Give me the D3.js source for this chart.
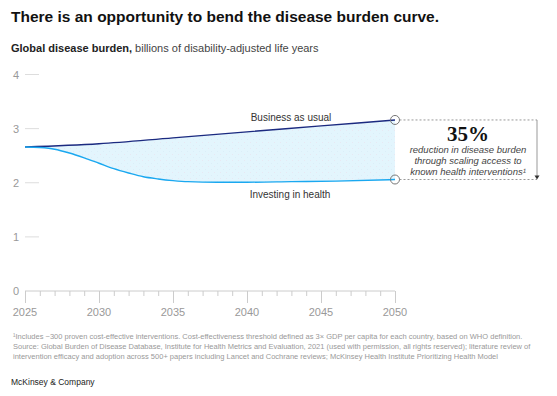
<!DOCTYPE html>
<html>
<head>
<meta charset="utf-8">
<script src="https://cdn.jsdelivr.net/npm/d3@7"></script>
<style>
  body { margin: 0; background: #fff; }
  svg text { font-family: "Liberation Sans", Arial, sans-serif; }
</style>
</head>
<body>
<div id="vis"></div>
<script>
// data (billions of DALYs)
var bauYears = [2025, 2030, 2035, 2040, 2045, 2050];
var bauValues = [2.66, 2.72, 2.83, 2.94, 3.05, 3.16];

var healthYears = [2025, 2026, 2027, 2028, 2029, 2030, 2031, 2032, 2033, 2034, 2035, 2036, 2038, 2040, 2043, 2046, 2050];
var healthValues = [2.66, 2.65, 2.62, 2.55, 2.46, 2.36, 2.26, 2.18, 2.11, 2.07, 2.04, 2.02, 2.01, 2.01, 2.02, 2.03, 2.06];

var yTicks = [0, 1, 2, 3, 4];
var xTicks = [2025, 2030, 2035, 2040, 2045, 2050];

var footnotes = [
    "\u00b9Includes ~300 proven cost-effective interventions. Cost-effectiveness threshold defined as 3\u00d7 GDP per capita for each country, based on WHO definition.",
    "Source: Global Burden of Disease Database, Institute for Health Metrics and Evaluation, 2021 (used with permission, all rights reserved); literature review of",
    "intervention efficacy and adoption across 500+ papers including Lancet and Cochrane reviews; McKinsey Health Institute Prioritizing Health Model"
];

var bau = bauYears.map((d, i) => ({ year: d, value: bauValues[i] }));
var health = healthYears.map((d, i) => ({ year: d, value: healthValues[i] }));

var W = 557, H = 396;
var svg = d3.select("#vis")
    .append("svg")
    .attr("width", W)
    .attr("height", H);

var x = d3.scaleLinear().domain([2025, 2050]).range([25, 395]);
var y = d3.scaleLinear().domain([0, 4]).range([291, 74.5]);

// titles
svg.append("text")
    .attr("x", 11).attr("y", 22)
    .attr("font-size", 15.5).attr("font-weight", "bold").attr("fill", "#111")
    .text("There is an opportunity to bend the disease burden curve.");

var sub = svg.append("text")
    .attr("x", 11).attr("y", 52)
    .attr("font-size", 11).attr("fill", "#222");
sub.append("tspan").attr("font-weight", "bold").text("Global disease burden,");
sub.append("tspan").attr("fill", "#444").text(" billions of disability-adjusted life years");

// y ticks
var yg = svg.append("g");
yg.selectAll("line").data(yTicks.filter(d => d > 0)).enter().append("line")
    .attr("x1", 25).attr("x2", 39)
    .attr("y1", d => y(d)).attr("y2", d => y(d))
    .attr("stroke", "#ddd").attr("stroke-width", 1);
yg.selectAll("text").data(yTicks).enter().append("text")
    .attr("x", 19).attr("y", d => y(d) + 4)
    .attr("text-anchor", "end")
    .attr("font-size", 11).attr("fill", "#999")
    .text(d => d);

// x axis
var xAxis = d3.axisBottom(x)
    .ticks(25)
    .tickSize(5)
    .tickFormat("");
var xg = svg.append("g")
    .attr("transform", "translate(0," + y(0) + ")")
    .call(xAxis);
xg.select(".domain").attr("stroke", "#ccc").attr("d", "M" + x(2025) + ",0H" + x(2050));
xg.selectAll(".tick line").attr("stroke", "#ccc")
    .attr("y2", d => d % 5 === 0 ? 12 : 5);
svg.append("g").selectAll("text").data(xTicks).enter().append("text")
    .attr("x", d => x(d)).attr("y", 316)
    .attr("text-anchor", "middle")
    .attr("font-size", 11).attr("fill", "#999")
    .text(d => d);

// dotted fill pattern
var defs = svg.append("defs");
var pat = defs.append("pattern")
    .attr("id", "dots")
    .attr("patternUnits", "userSpaceOnUse")
    .attr("width", 6).attr("height", 6);
pat.append("rect").attr("width", 6).attr("height", 6).attr("fill", "#e3f5fd");
pat.append("circle").attr("cx", 1.5).attr("cy", 1.5).attr("r", 0.45).attr("fill", "#d3e8f4");
pat.append("circle").attr("cx", 4.5).attr("cy", 4.5).attr("r", 0.45).attr("fill", "#ecdcea");

// area between the two curves
var curve = d3.line().curve(d3.curveMonotoneX).x(d => x(d.year)).y(d => y(d.value));

var areaPath = curve(bau) + "L" + curve(health.slice().reverse()).slice(1) + "Z";
svg.append("path")
    .attr("d", areaPath)
    .attr("fill", "url(#dots)");

svg.append("path")
    .datum(bau)
    .attr("d", curve)
    .attr("fill", "none")
    .attr("stroke", "#1b2a80")
    .attr("stroke-width", 1.4);

svg.append("path")
    .datum(health)
    .attr("d", curve)
    .attr("fill", "none")
    .attr("stroke", "#1aa8f0")
    .attr("stroke-width", 1.4);

// series labels
svg.append("text")
    .attr("x", 291).attr("y", 121)
    .attr("text-anchor", "middle")
    .attr("font-size", 10).attr("fill", "#333")
    .text("Business as usual");
svg.append("text")
    .attr("x", 290).attr("y", 198)
    .attr("text-anchor", "middle")
    .attr("font-size", 10).attr("fill", "#333")
    .text("Investing in health");

// annotation
var endTop = y(bauValues[bauValues.length - 1]);
var endBot = y(healthValues[healthValues.length - 1]);
var boxX = 537;

svg.append("line")
    .attr("x1", x(2050) + 4.5).attr("x2", boxX)
    .attr("y1", endTop).attr("y2", endTop)
    .attr("stroke", "#999").attr("stroke-dasharray", "2,2");
svg.append("line")
    .attr("x1", x(2050) + 4.5).attr("x2", boxX)
    .attr("y1", endBot).attr("y2", endBot)
    .attr("stroke", "#999").attr("stroke-dasharray", "2,2");
svg.append("line")
    .attr("x1", boxX).attr("x2", boxX)
    .attr("y1", endTop).attr("y2", endBot - 3)
    .attr("stroke", "#999");
svg.append("path")
    .attr("d", "M" + (boxX - 2.5) + "," + (endBot - 4) + "L" + (boxX + 2.5) + "," + (endBot - 4) + "L" + boxX + "," + (endBot) + "Z")
    .attr("fill", "#333");

svg.selectAll(".endpt").data([endTop, endBot]).enter().append("circle")
    .attr("cx", x(2050)).attr("cy", d => d)
    .attr("r", 4.5)
    .attr("fill", "none")
    .attr("stroke", "#777");

svg.append("text")
    .attr("x", 468).attr("y", 141)
    .attr("text-anchor", "middle")
    .attr("font-size", 21).attr("font-weight", "bold").attr("fill", "#111")
    .style("font-family", "'Liberation Serif', serif")
    .text("35%");

var note = ["reduction in disease burden", "through scaling access to", "known health interventions\u00b9"];
svg.append("g").selectAll("text").data(note).enter().append("text")
    .attr("x", 468).attr("y", (d, i) => 153 + i * 11)
    .attr("text-anchor", "middle")
    .attr("font-size", 9.5).attr("font-style", "italic").attr("fill", "#444")
    .text(d => d);

// footnotes
svg.append("g").selectAll("text").data(footnotes).enter().append("text")
    .attr("x", 13).attr("y", (d, i) => 339 + i * 10)
    .attr("font-size", 7.5).attr("fill", "#999")
    .text(d => d);

svg.append("text")
    .attr("x", 11).attr("y", 385)
    .attr("font-size", 8.5).attr("fill", "#222")
    .text("McKinsey & Company");
</script>
</body>
</html>
